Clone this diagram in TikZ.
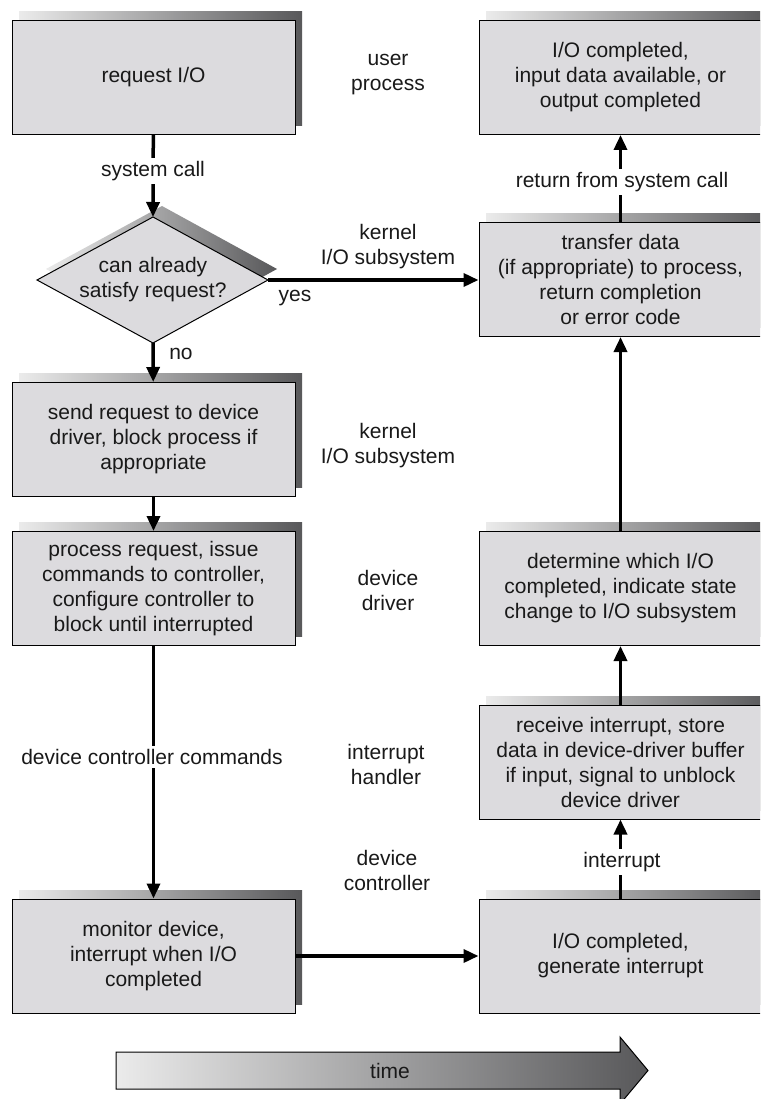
\documentclass[tikz,border=0pt]{standalone}
\usepackage{fontspec}
\setmainfont{Liberation Sans}
\usetikzlibrary{arrows.meta,shadows,shadings}
\definecolor{boxfill}{RGB}{220,219,222}
\definecolor{shlight}{RGB}{235,235,235}
\definecolor{shdark}{RGB}{88,88,90}
\definecolor{txt}{RGB}{25,25,25}
\tikzset{
  box/.style={draw=black, line width=1pt, fill=boxfill, minimum width=283pt, minimum height=114pt,
    inner sep=2pt, align=center, text=txt, font=\fontsize{21}{25}\selectfont,
    general shadow={shadow xshift=7pt, shadow yshift=9pt, left color=shlight, right color=shdark, draw=none}},
  lab/.style={font=\fontsize{21}{25}\selectfont, align=center, inner sep=0pt, text=txt},
  brk/.style={lab, fill=white, inner sep=3pt},
  arr/.style={line width=3.5pt, -{Triangle[width=13pt,length=15pt]}},
}
\begin{document}
\begin{tikzpicture}[x=1pt,y=-1pt]
\useasboundingbox (0,0) rectangle (760,1099);
\clip (0,0) rectangle (760,1099);
\fill[white] (0,0) rectangle (760,1099);

% left column boxes
\node[box] (b1) at (153.5,77.5) {request I/O};
\node[box] (send) at (153.5,439.5) {send request to device\\driver, block process if\\appropriate};
\node[box] (proc) at (153.5,588.5) {process request, issue\\commands to controller,\\configure controller to\\block until interrupted};
\node[box] (mon) at (153.5,956) {monitor device,\\interrupt when I/O\\completed};

% right column boxes
\node[box] (done) at (620.5,77.5) {I/O completed,\\input data available, or\\output completed};
\node[box] (xfer) at (620.5,279.5) {transfer data\\(if appropriate) to process,\\return completion\\or error code};
\node[box] (det) at (620.5,588.5) {determine which I/O\\completed, indicate state\\change to I/O subsystem};
\node[box] (recv) at (620.5,762) {receive interrupt, store\\data in device-driver buffer\\if input, signal to unblock\\device driver};
\node[box] (gen) at (620.5,956) {I/O completed,\\generate interrupt};

% diamond
\coordinate (dT) at (153,217);
\coordinate (dR) at (268,280);
\coordinate (dB) at (153,343);
\coordinate (dL) at (37,280);
\shade[left color=shlight, right color=shdark, shift={(9,-11)}] (153,217) -- (268,280) -- (153,343) -- (37,280) -- cycle;
\draw[line width=1pt, fill=boxfill] (dT) -- (dR) -- (dB) -- (dL) -- cycle;
\node[lab] (q) at (153,280) {can already\\satisfy request?};

% connectors
\draw[arr] (b1) -- (dT);
\node[brk] (lsys) at (153,171) {system call};
\draw[arr] (dB) -- (send);
\node[lab] (lno) at (181,354) {no};
\draw[arr] (dR) -- (xfer.west |- dR);
\node[lab] (lyes) at (295,298) {yes};
\draw[arr] (send) -- (proc);
\draw[arr] (proc) -- (mon);
\node[brk] (ldcc) at (152,757) {device controller commands};
\draw[arr] (mon.east) -- (gen.west);
\draw[arr] (gen) -- (recv);
\node[brk] (lint) at (622,862) {interrupt};
\draw[arr] (recv) -- (det);
\draw[arr] (det) -- (xfer);
\draw[arr] (xfer) -- (done);
\node[brk] (lret) at (622,182) {return from system call};

% middle labels
\node[lab] (l1) at (388,75) {user\\process};
\node[lab] (l2) at (388,247) {kernel\\I/O subsystem};
\node[lab] (l3) at (388,446) {kernel\\I/O subsystem};
\node[lab] (l4) at (388,590) {device\\driver};
\node[lab] (l5) at (386,764) {interrupt\\handler};
\node[lab] (l6) at (387,870) {device\\controller};

% time arrow
\coordinate (ta) at (116,1052);
\shade[draw=black, line width=1pt, left color=shlight, right color=shdark]
  (116,1052) -- (620,1052) -- (620,1037) -- (648,1070.5) -- (620,1104) -- (620,1089) -- (116,1089) -- cycle;
\node[lab] (time) at (390,1071) {time};
\end{tikzpicture}
\end{document}
